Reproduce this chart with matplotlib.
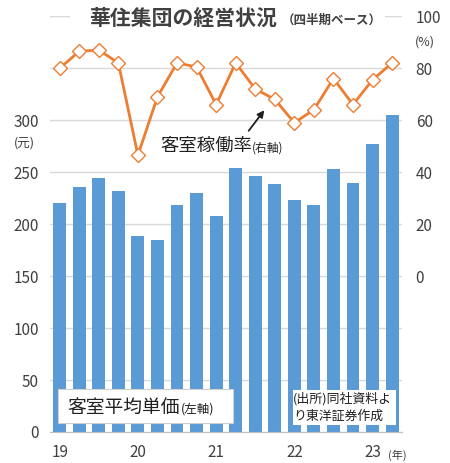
import matplotlib.pyplot as plt
import numpy as np

plt.rcParams['font.family'] = ['Noto Sans CJK JP', 'DejaVu Sans']

# quarterly data 2019Q1 - 2023Q2
quarters = list(range(18))
year_labels = ['19', '20', '21', '22', '23']
year_pos = [0, 4, 8, 12, 16]

adr = [220, 236, 244, 232, 189, 185, 218, 230, 208, 254,
       246, 239, 223, 218, 253, 240, 277, 305]
occupancy = [80, 86.5, 87, 82, 46.5, 69, 82, 80.5, 66, 82,
             72, 68, 59, 64, 76, 66, 75.5, 82]

left_ticks = [0, 50, 100, 150, 200, 250, 300, 350, 400]
right_ticks = [0, 20, 40, 60, 80, 100]

BAR_COLOR = '#5B9BD5'
LINE_COLOR = '#ED7D31'
TEXT_COLOR = '#404040'
W, H = 450, 463


def fx(px):
    return px / W


def fy(py):
    return 1 - py / H


fig = plt.figure(figsize=(4.5, 4.63), dpi=100)
ax = fig.add_axes([0.111, 0.067, 0.782, 0.898])

ax.bar(quarters, adr, width=0.66, color=BAR_COLOR, zorder=2)
ax.set_xlim(-0.5, 17.5)
ax.set_ylim(0, 400)
ax.set_yticks(left_ticks)
ax.set_yticklabels([str(t) if t <= 300 else '' for t in left_ticks])
ax.grid(axis='y', color='#D9D9D9', linewidth=1, zorder=0)
ax.set_axisbelow(True)
ax.set_xticks(year_pos)
ax.set_xticklabels(year_labels)
ax.tick_params(length=0, labelsize=11, labelcolor=TEXT_COLOR)
ax.tick_params(axis='x', pad=9)
ax.tick_params(axis='y', pad=8)
for s in ['top', 'left', 'right']:
    ax.spines[s].set_visible(False)
ax.spines['bottom'].set_color('#BFBFBF')

ax2 = ax.twinx()
ax2.set_ylim(-60, 100)
ax2.set_yticks(right_ticks)
ax2.tick_params(length=0, labelsize=11, labelcolor=TEXT_COLOR, pad=10)
for s in ax2.spines.values():
    s.set_visible(False)
ax2.plot(quarters, occupancy, color=LINE_COLOR, linewidth=2,
         marker='D', markersize=7, markerfacecolor='white',
         markeredgecolor=LINE_COLOR, markeredgewidth=1.0, zorder=5)

# line label with arrow
ax2.annotate('', xy=(266, H - 108), xycoords='figure pixels',
             xytext=(247, H - 133), textcoords='figure pixels',
             arrowprops=dict(arrowstyle='-|>', color='#202020', lw=1.3,
                             mutation_scale=10))
fig.text(fx(160), fy(146), '客室稼働率', fontsize=13.2,
         color='#202020', va='center')
fig.text(fx(252), fy(148), '(右軸)', fontsize=8.5,
         color='#202020', va='center')

# bar label box
ax.add_patch(plt.Rectangle((-0.09, 8.7), 8.97, 32.6, facecolor='white',
                           edgecolor='#D0D0D0', linewidth=0.8, zorder=4))
fig.text(fx(67), fy(407), '客室平均単価', fontsize=13.5,
         color='#202020', va='center', zorder=6)
fig.text(fx(181), fy(409), '(左軸)', fontsize=9,
         color='#202020', va='center', zorder=6)

# source box
ax.add_patch(plt.Rectangle((11.91, 6.7), 5.28, 33.7, facecolor='white',
                           edgecolor='none', zorder=4))
fig.text(fx(293), fy(399), '(出所)同社資料よ', fontsize=9.3,
         color='#202020', va='center', zorder=6)
fig.text(fx(293), fy(416), 'り東洋証券作成', fontsize=9.3,
         color='#202020', va='center', zorder=6)

fig.text(fx(14), fy(143), '(元)', fontsize=9, color=TEXT_COLOR,
         va='center')
fig.text(fx(415), fy(42), '(%)', fontsize=9, color=TEXT_COLOR,
         va='center')
fig.text(fx(388), fy(455), '(年)', fontsize=8, color=TEXT_COLOR,
         va='center')

# title on a white band over the top gridline
fig.patches.append(plt.Rectangle((fx(70), fy(28)), fx(385) - fx(70),
                                 fy(8) - fy(28), transform=fig.transFigure,
                                 facecolor='white', edgecolor='none',
                                 zorder=10))
fig.text(fx(89), fy(18), '華住集団の経営状況', fontsize=15,
         fontweight='bold', color='#404040', va='center', zorder=11)
fig.text(fx(282), fy(20), '（四半期ベース）', fontsize=9,
         fontweight='bold', color='#404040', va='center', zorder=11)

fig.savefig('out.png', dpi=100)
